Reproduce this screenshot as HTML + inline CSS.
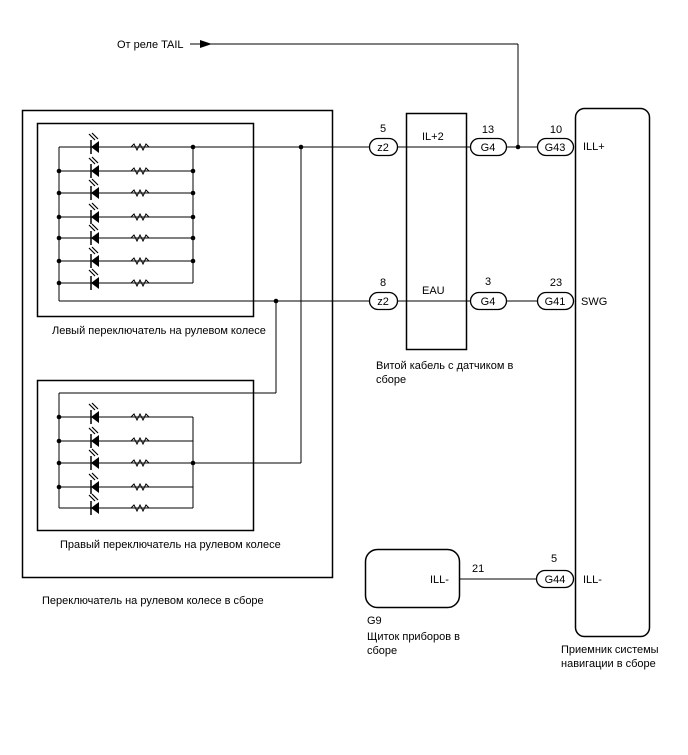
<!DOCTYPE html>
<html><head><meta charset="utf-8"><style>
html,body{margin:0;padding:0;background:#fff;}
svg{display:block;}
text{font-family:"Liberation Sans",sans-serif;font-size:11px;fill:#000;}
</style></head><body>
<svg width="688" height="755" viewBox="0 0 688 755" xmlns="http://www.w3.org/2000/svg">
<defs>
<g id="led">
  <polygon points="91,0 99,-6 99,6" fill="#000"/>
  <line x1="91" y1="-7" x2="91" y2="7" stroke="#000" stroke-width="1.5"/>
  <line x1="89" y1="-13" x2="95" y2="-7" stroke="#000" stroke-width="1.2"/>
  <line x1="92" y1="-14" x2="98" y2="-8" stroke="#000" stroke-width="1.2"/>
  <polyline points="131,0 134,-3 137,3 140,-3 143,3 146,-3 149,0" fill="none" stroke="#000" stroke-width="1"/>
</g>
<circle id="dot" r="2.3" fill="#000"/>
</defs>
<g stroke="#000" fill="none" stroke-width="1">
  <rect x="22.5" y="110.5" width="310" height="467" stroke-width="1.5"/>
  <rect x="37.5" y="123.5" width="216" height="193" stroke-width="1.5"/>
  <rect x="37.5" y="380.5" width="216" height="150" stroke-width="1.5"/>
  <line x1="59" y1="147" x2="369" y2="147"/>
  <line x1="59" y1="171" x2="193" y2="171"/>
  <line x1="59" y1="193" x2="193" y2="193"/>
  <line x1="59" y1="217" x2="193" y2="217"/>
  <line x1="59" y1="238" x2="193" y2="238"/>
  <line x1="59" y1="261" x2="193" y2="261"/>
  <line x1="59" y1="283" x2="193" y2="283"/>
  <line x1="59" y1="147" x2="59" y2="301"/>
  <line x1="193" y1="147" x2="193" y2="283"/>
  <line x1="59" y1="301" x2="369" y2="301"/>
  <line x1="276" y1="301" x2="276" y2="393"/>
  <line x1="59" y1="393" x2="276" y2="393"/>
  <line x1="59" y1="393" x2="59" y2="508"/>
  <line x1="59" y1="417" x2="193" y2="417"/>
  <line x1="59" y1="441" x2="193" y2="441"/>
  <line x1="59" y1="463" x2="301" y2="463"/>
  <line x1="59" y1="487" x2="193" y2="487"/>
  <line x1="59" y1="508" x2="193" y2="508"/>
  <line x1="193" y1="417" x2="193" y2="508"/>
  <line x1="301" y1="147" x2="301" y2="463"/>
  <rect x="406.5" y="113.5" width="60" height="236" stroke-width="1.5"/>
  <line x1="397" y1="147" x2="470" y2="147"/>
  <line x1="397" y1="301" x2="470" y2="301"/>
  <line x1="506" y1="147" x2="537" y2="147"/>
  <line x1="506" y1="301" x2="537" y2="301"/>
  <line x1="518" y1="147" x2="518" y2="44"/>
  <line x1="190" y1="44" x2="518" y2="44"/>
  <rect x="575.5" y="108.5" width="74" height="528" rx="9" stroke-width="1.5"/>
  <rect x="365.5" y="549.5" width="94" height="58" rx="12" stroke-width="1.5"/>
  <line x1="460" y1="579" x2="537" y2="579"/>
  <rect x="369.5" y="138.5" width="28" height="17" rx="8.5" fill="#fff" stroke-width="1.3"/>
  <rect x="369.5" y="292.5" width="28" height="17" rx="8.5" fill="#fff" stroke-width="1.3"/>
  <rect x="470.5" y="138.5" width="36" height="17" rx="8.5" fill="#fff" stroke-width="1.3"/>
  <rect x="470.5" y="292.5" width="36" height="17" rx="8.5" fill="#fff" stroke-width="1.3"/>
  <rect x="537.5" y="138.5" width="36" height="17" rx="8.5" fill="#fff" stroke-width="1.3"/>
  <rect x="537.5" y="292.5" width="36" height="17" rx="8.5" fill="#fff" stroke-width="1.3"/>
  <rect x="536.5" y="570.5" width="37" height="17" rx="8.5" fill="#fff" stroke-width="1.3"/>
</g>
<polygon points="200,40 212,44 200,48" fill="#000"/>
<use href="#led" y="147"/><use href="#led" y="171"/><use href="#led" y="193"/><use href="#led" y="217"/>
<use href="#led" y="238"/><use href="#led" y="261"/><use href="#led" y="283"/>
<use href="#led" y="417"/><use href="#led" y="441"/><use href="#led" y="463"/><use href="#led" y="487"/><use href="#led" y="508"/>
<use href="#dot" x="193" y="147"/><use href="#dot" x="301" y="147"/>
<use href="#dot" x="59" y="171"/><use href="#dot" x="193" y="171"/>
<use href="#dot" x="59" y="193"/><use href="#dot" x="193" y="193"/>
<use href="#dot" x="59" y="217"/><use href="#dot" x="193" y="217"/>
<use href="#dot" x="59" y="238"/><use href="#dot" x="193" y="238"/>
<use href="#dot" x="59" y="261"/><use href="#dot" x="193" y="261"/>
<use href="#dot" x="59" y="283"/>
<use href="#dot" x="276" y="301"/>
<use href="#dot" x="59" y="417"/><use href="#dot" x="59" y="441"/><use href="#dot" x="59" y="463"/><use href="#dot" x="193" y="463"/><use href="#dot" x="59" y="487"/>
<use href="#dot" x="518" y="147"/>
<text x="117" y="48">От реле TAIL</text>
<text x="383" y="151" text-anchor="middle">z2</text>
<text x="383" y="305" text-anchor="middle">z2</text>
<text x="488" y="151" text-anchor="middle">G4</text>
<text x="488" y="305" text-anchor="middle">G4</text>
<text x="555" y="151" text-anchor="middle">G43</text>
<text x="555" y="305" text-anchor="middle">G41</text>
<text x="555" y="583" text-anchor="middle">G44</text>
<text x="383" y="132" text-anchor="middle">5</text>
<text x="383" y="286" text-anchor="middle">8</text>
<text x="488" y="133" text-anchor="middle">13</text>
<text x="488" y="285" text-anchor="middle">3</text>
<text x="556" y="133" text-anchor="middle">10</text>
<text x="556" y="286" text-anchor="middle">23</text>
<text x="554" y="562" text-anchor="middle">5</text>
<text x="472" y="572">21</text>
<text x="422" y="140">IL+2</text>
<text x="422" y="294">EAU</text>
<text x="583" y="150">ILL+</text>
<text x="581" y="305">SWG</text>
<text x="583" y="583">ILL-</text>
<text x="430" y="583">ILL-</text>
<text x="52" y="334">Левый переключатель на рулевом колесе</text>
<text x="60" y="548">Правый переключатель на рулевом колесе</text>
<text x="42" y="604">Переключатель на рулевом колесе в сборе</text>
<text x="376" y="369">Витой кабель с датчиком в</text>
<text x="376" y="383">сборе</text>
<text x="367" y="624">G9</text>
<text x="367" y="640">Щиток приборов в</text>
<text x="367" y="654">сборе</text>
<text x="561" y="653">Приемник системы</text>
<text x="561" y="667">навигации в сборе</text>
</svg>
</body></html>
